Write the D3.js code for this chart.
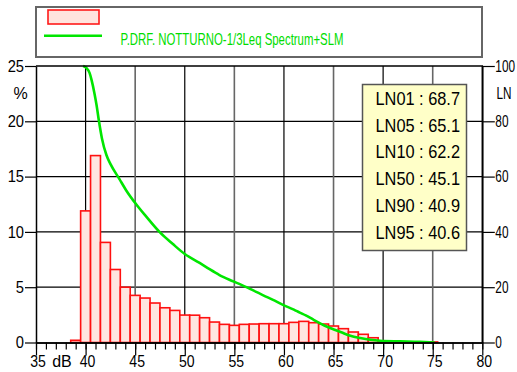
<!DOCTYPE html>
<html>
<head>
<meta charset="utf-8">
<script src="https://cdn.jsdelivr.net/npm/d3@7/dist/d3.min.js"></script>
<style>
  html, body { margin: 0; padding: 0; background: #fff; }
  svg { display: block; font-family: "Liberation Sans", Arial, sans-serif; }
</style>
</head>
<body>
<svg id="chart" width="517" height="372"></svg>
<script>
// Level distribution, 1 dB classes (percent of time)
const levelBins = [39, 40, 41, 42, 43, 44, 45, 46, 47, 48, 49, 50, 51, 52, 53, 54, 55, 56, 57,
  58, 59, 60, 61, 62, 63, 64, 65, 66, 67, 68, 69, 70, 71, 72, 73, 74, 75];
const levelPct = [0.2, 11.9, 16.9, 9.05, 6.6, 5.0, 4.26, 4.02, 3.57, 3.14, 2.9, 2.48, 2.47, 2.24, 1.85,
  1.64, 1.55, 1.64, 1.67, 1.7, 1.7, 1.7, 1.82, 1.91, 1.79, 1.67, 1.49, 1.25, 0.95, 0.74, 0.43,
  0.1, 0.08, 0.06, 0.05, 0.04, 0.05];

// Cumulative exceedance curve (LN, % of time the level is exceeded)
const cumDb = [39.75, 40.1, 40.4, 40.6, 40.9, 41.1, 41.35, 41.65, 42.1, 42.5, 43.4, 44.1, 45.1, 46.1,
  47.5, 48.8, 50.0, 51.5, 52.5, 53.5, 54.5, 55.5, 57.2, 58.9, 59.9, 61.0, 61.6, 62.2, 63.0, 64.3,
  65.1, 65.7, 66.7, 67.7, 68.7, 69.7, 71.7, 73.7, 75.2];
const cumLN = [100, 99.2, 97.5, 95, 90, 86, 80, 73.8, 67.8, 64.6, 59.2, 55.0, 50, 45.6,
  39.8, 35.6, 32.0, 28.8, 26.5, 24.4, 22.7, 21.2, 18.3, 15.4, 13.6, 11.9, 10.8, 9.8, 8.2, 5.8,
  4.6, 3.8, 2.4, 1.6, 1.0, 0.65, 0.43, 0.25, 0];

// Statistical levels
const statNames = ["LN01", "LN05", "LN10", "LN50", "LN90", "LN95"];
const statValues = [68.7, 65.1, 62.2, 45.1, 40.9, 40.6];

// Axis ticks
const xMajorTicks = [35, 40, 45, 50, 55, 60, 65, 70, 75, 80];
const pctTicks = [0, 5, 10, 15, 20, 25];
const lnTicks = [0, 20, 40, 60, 80, 100];

const seriesName = "P.DRF. NOTTURNO-1/3Leq Spectrum+SLM";

const svg = d3.select("#chart");
const plotLeft = 36, plotRight = 482.3, plotTop = 66, plotBottom = 342.5;

const x = d3.scaleLinear().domain([35, 80]).range([plotLeft, plotRight]);
const yPct = d3.scaleLinear().domain([0, 25]).range([plotBottom, plotTop]);
const yLN = d3.scaleLinear().domain([0, 100]).range([plotBottom, plotTop]);

// Squeeze a text horizontally to mimic the narrow chart lettering
function condense(sel, k) {
  sel.each(function () {
    const w = this.getComputedTextLength();
    d3.select(this).attr("textLength", w * k).attr("lengthAdjust", "spacingAndGlyphs");
  });
}
// Same squeeze done with a transform, keeping the anchor point in place
function condenseT(sel, k) {
  sel.each(function () {
    const t = d3.select(this);
    const x0 = +t.attr("x") || 0;
    t.attr("x", x0 / k).attr("transform", `scale(${k},1)`);
  });
}

// Legend
const legend = svg.append("g");
legend.append("rect").attr("x", 36).attr("y", 7).attr("width", 446).attr("height", 50)
  .attr("fill", "#fff").attr("stroke", "#666").attr("stroke-width", 2);
legend.append("rect").attr("x", 48).attr("y", 10).attr("width", 51).attr("height", 14)
  .attr("fill", "#ffe4de").attr("stroke", "#ff1a1a").attr("stroke-width", 1.6);
legend.append("line").attr("x1", 44).attr("x2", 102).attr("y1", 35.7).attr("y2", 35.7)
  .attr("stroke", "#00e600").attr("stroke-width", 2.5);
legend.append("text").attr("x", 120.5).attr("y", 45.3)
  .attr("font-size", 16.5).attr("fill", "#00dd00")
  .attr("textLength", 223).attr("lengthAdjust", "spacingAndGlyphs")
  .text(seriesName);

// Grid
const grid = svg.append("g");
grid.selectAll("line.h").data(pctTicks.filter(d => d > 0 && d < 25)).join("line")
  .attr("x1", plotLeft).attr("x2", plotRight)
  .attr("y1", d => yPct(d)).attr("y2", d => yPct(d))
  .attr("stroke", "#000").attr("stroke-width", 1.2);
grid.selectAll("line.v").data(xMajorTicks.filter(d => d > 35 && d < 80)).join("line")
  .attr("x1", d => x(d)).attr("x2", d => x(d))
  .attr("y1", plotTop).attr("y2", plotBottom)
  .attr("stroke", d => d % 10 === 0 ? "#000" : "#666").attr("stroke-width", d => d % 10 === 0 ? 1.2 : 1.6);

// Bars
svg.append("g").selectAll("rect").data(levelBins).join("rect")
  .attr("x", d => x(d - 0.5))
  .attr("width", d => x(d + 0.5) - x(d - 0.5))
  .attr("y", (d, i) => yPct(levelPct[i]))
  .attr("height", (d, i) => plotBottom - yPct(levelPct[i]))
  .attr("fill", "#ffe6e0").attr("stroke", "#ff1010").attr("stroke-width", 1.6);

// Exceedance curve
const line = d3.line().x(d => x(d[0])).y(d => yLN(d[1])).curve(d3.curveMonotoneX);
svg.append("path").datum(cumDb.map((d, i) => [d, cumLN[i]]))
  .attr("d", line).attr("fill", "none")
  .attr("stroke", "#00e600").attr("stroke-width", 2.6).attr("stroke-linejoin", "round");

// Frame (top and right edges)
svg.append("path")
  .attr("d", `M${plotLeft},${plotTop}H${plotRight}V${plotBottom}`)
  .attr("fill", "none").attr("stroke", "#000").attr("stroke-width", 1.5);

// Axes
function styleAxis(g) {
  g.selectAll("path.domain").attr("stroke", "#000").attr("stroke-width", 1.5);
  g.selectAll(".tick line").attr("stroke", "#000").attr("stroke-width", 1.2);
  g.selectAll(".tick text").attr("font-size", 16).attr("fill", "#000")
    .attr("font-family", "'Liberation Sans', Arial, sans-serif");
}

const axLeft = svg.append("g").attr("transform", `translate(${plotLeft},0)`)
  .call(d3.axisLeft(yPct).tickValues(pctTicks).tickSize(11).tickSizeOuter(0).tickPadding(1));
styleAxis(axLeft);
condenseT(axLeft.selectAll(".tick text"), 0.92);

const axRight = svg.append("g").attr("transform", `translate(${plotRight},0)`)
  .call(d3.axisRight(yLN).tickValues(lnTicks).tickSize(12.5).tickSizeOuter(0).tickPadding(0.5));
styleAxis(axRight);
condenseT(axRight.selectAll(".tick text"), 0.74);

const axMinor = svg.append("g").attr("transform", `translate(0,${plotBottom})`)
  .call(d3.axisBottom(x).tickValues(d3.range(35, 81)).tickSize(7).tickSizeOuter(0).tickFormat(""));
styleAxis(axMinor);

const axBottom = svg.append("g").attr("transform", `translate(0,${plotBottom})`)
  .call(d3.axisBottom(x).tickValues(xMajorTicks).tickSize(13).tickSizeOuter(0).tickPadding(0));
styleAxis(axBottom);
axBottom.selectAll(".tick text").attr("x", 1.5);
condenseT(axBottom.selectAll(".tick text"), 0.88);

// Axis titles
svg.append("text").attr("x", 20.5).attr("y", 93).attr("dy", "0.35em")
  .attr("text-anchor", "middle").attr("font-size", 16).text("%");
svg.append("text").attr("x", 504).attr("y", 93).attr("dy", "0.35em")
  .attr("text-anchor", "middle").attr("font-size", 16)
  .attr("textLength", 15).attr("lengthAdjust", "spacingAndGlyphs").text("LN");
svg.append("text").attr("x", 62).attr("y", 355.5).attr("dy", "0.71em")
  .attr("text-anchor", "middle").attr("font-size", 16).text("dB");

// Statistics box
const stats = svg.append("g");
stats.append("rect").attr("x", 362.5).attr("y", 84.5).attr("width", 104).attr("height", 166)
  .attr("fill", "#ffffc8").attr("stroke", "#555").attr("stroke-width", 1.5);
stats.selectAll("text").data(statNames).join("text")
  .attr("x", 375.5)
  .attr("y", (d, i) => 98 + i * 26.8)
  .attr("dy", "0.36em")
  .attr("font-size", 19).attr("fill", "#000")
  .text((d, i) => `${d} : ${statValues[i].toFixed(1)}`)
  .call(condense, 0.86);
</script>
</body>
</html>
